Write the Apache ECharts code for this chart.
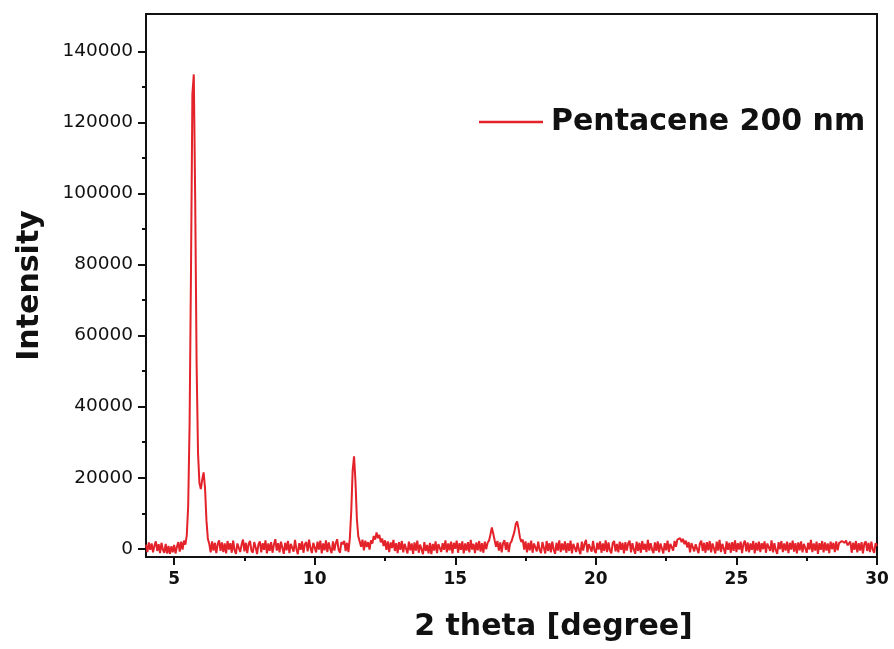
<!DOCTYPE html>
<html>
<head>
<meta charset="utf-8">
<script src="https://cdn.jsdelivr.net/npm/echarts@6/dist/echarts.min.js"></script>
<style>html,body{margin:0;padding:0;background:#fff}#c{width:894px;height:649px}</style>
</head>
<body>
<div id="c"></div>
<script>
// 2-theta scan: start angle and step (degrees)
const scanStart = 4.0;
const scanStep = 0.05;
// Intensity, one row per degree (20 points per row)
const intensity = [
  1200,-900,1800,-300,1500,-1000,900,2100,-600,1300,-1200,1700,-200,-1100,1400,-1300,800,-1400,700,-1000,
  1100,-1300,600,1900,-800,2000,-200,2300,1200,3800,12000,35000,78000,128000,133500,98000,52000,27000,18500,16800,
  19500,21500,17000,8000,2800,1400,-1000,2100,-500,1700,-1200,1300,2400,-600,1800,-900,1500,-1300,2200,-200,
  1600,-1100,2300,-400,-1400,1500,2000,-900,1200,2600,-700,1700,-1200,1400,2200,-500,-1100,1900,400,-1500,
  1300,2100,-1000,1600,-300,2400,-1300,1500,-600,1900,-1100,1200,2700,-500,1600,-1000,2000,300,-1400,1700,
  -400,2200,-1200,1400,1800,-800,2500,-100,-1500,1600,-300,2100,-1100,1300,1900,-700,2600,200,-1200,1700,
  1400,-1000,2000,-200,2300,-1300,1500,-400,2400,-900,1800,0,-1200,2100,-500,1600,2700,-300,-1100,1900,
  1300,2200,-600,1700,-900,3000,10500,22000,26000,19000,8500,3500,2100,600,2600,-400,2300,500,1900,-200,
  2400,1500,3600,2600,4600,3000,3900,1800,2900,800,2400,-300,2100,-900,1800,200,2500,-600,1600,-1200,
  1900,-300,2200,-1000,1400,1700,-1300,2000,-400,1500,-1400,1800,-500,2300,-1100,1200,1600,-1500,1900,-600,
  1100,-1300,1700,-1500,1400,-500,2100,-1200,1300,1800,-900,1600,-300,2400,-1000,1500,-400,2000,-1300,1700,
  0,2300,-1100,1600,-300,2100,-1300,1500,-500,1900,-1000,2500,-200,1400,-1200,1800,-400,2200,-800,1600,
  -1100,2000,-100,1700,2300,4000,6000,4300,2400,600,2200,-500,1800,-1000,1600,2400,-300,1900,-900,1500,
  2100,2600,4700,6900,7700,5700,3200,1900,2600,-200,2100,-1000,1700,-400,2300,-1100,1500,1800,-700,2000,
  -300,-1200,1900,1400,-1300,2200,-600,1600,-1000,2000,-200,-1400,1700,-500,2400,-900,1500,-400,2100,-1100,
  1600,-600,2300,-1300,1400,1900,-900,1700,-300,-1500,2000,-500,1500,2500,-1000,1300,1800,-800,2200,-400,
  -1200,1700,-200,2100,-1100,1500,-600,2400,-900,1800,-400,-1300,1600,2200,-700,1400,-1000,2000,-300,1700,
  -1300,1900,-500,1500,2300,-1000,1600,-200,-1400,2000,-600,1700,-1100,2200,-300,1400,-900,2500,-500,1600,
  -200,-1200,1800,-600,2100,-1000,1500,1900,-1300,1600,-400,2300,-900,1400,1800,-500,2200,600,2600,2300,
  3000,1900,2800,1300,2300,400,1900,-1000,1600,2100,-700,1300,1800,-1200,1500,2300,-600,1700,-1100,1900,
  -400,2200,-1000,1500,1800,-1300,2000,-500,2500,-900,1400,1600,-1400,2100,-300,1700,-1100,1900,-600,2400,
  -900,1600,-200,2000,-1200,1400,2300,-700,1800,-1000,1500,-300,2200,-1300,1700,-500,2000,-900,1600,-100,
  2100,-1100,1500,1800,-600,2400,-1000,1600,-400,-1400,1900,-100,2200,-900,1500,-500,2000,-1200,1700,-200,
  2300,-800,1600,-1300,1800,-400,2100,-1000,1400,1900,-1100,1700,-200,2500,-900,1500,-500,2000,-1400,1600,
  -300,2200,-1000,1800,-500,1500,-1200,2000,-100,1700,-900,2100,-400,1600,1300,2200,2100,1700,2300,1000,
  1500,2000,-1100,1700,-300,2200,-1000,1600,-500,1900,-1300,1500,2100,-600,1700,-900,2000,-200,-1100,1600,
  800
];
const seriesName = 'Pentacene 200 nm';
const xMajorTicks = [5, 10, 15, 20, 25, 30];
const xMinorTicks = [7.5, 12.5, 17.5, 22.5, 27.5];
const yMajorTicks = [0, 20000, 40000, 60000, 80000, 100000, 120000, 140000];
const yMinorTicks = [10000, 30000, 50000, 70000, 90000, 110000, 130000];
const xRange = [4, 30];
const yRange = [-2300, 150500];

const points = intensity.map((v, i) => [+(scanStart + i * scanStep).toFixed(2), v]);

const chart = echarts.init(document.getElementById('c'), null, {renderer: 'canvas'});
const titleFont = {fontFamily: 'DejaVu Sans', fontWeight: 'bold', fontSize: 30, color: '#111'};
chart.setOption({
  animation: false,
  backgroundColor: '#fff',
  grid: {left: 146, right: 17, top: 14, bottom: 92, show: true, borderColor: '#111', borderWidth: 2, backgroundColor: 'transparent'},
  legend: {
    data: [{name: seriesName, icon: 'rect'}],
    left: 474, top: 102,
    itemWidth: 64, itemHeight: 2.5,
    textStyle: Object.assign({}, titleFont, {padding: [0, 0, 0, 3]})
  },
  xAxis: [{
    type: 'value', min: xRange[0], max: xRange[1], position: 'bottom',
    name: '2 theta [degree]', nameLocation: 'middle', nameGap: 55,
    nameTextStyle: Object.assign({}, titleFont, {padding: [0, 0, 0, 84]}),
    axisLine: {show: true, onZero: false, lineStyle: {color: '#111', width: 2}},
    axisTick: {show: true, inside: false, length: 8, customValues: xMajorTicks, lineStyle: {color: '#111', width: 2}},
    axisLabel: {customValues: xMajorTicks, margin: 14, fontFamily: 'DejaVu Sans', fontWeight: 'bold', fontSize: 17, color: '#111'},
    splitLine: {show: false}
  }, {
    type: 'value', min: xRange[0], max: xRange[1], position: 'bottom',
    axisLine: {show: false, onZero: false},
    axisTick: {show: true, inside: false, length: 4, customValues: xMinorTicks, lineStyle: {color: '#111', width: 2}},
    axisLabel: {show: false},
    splitLine: {show: false}
  }],
  yAxis: [{
    type: 'value', min: yRange[0], max: yRange[1],
    name: 'Intensity', nameLocation: 'middle', nameGap: 101, nameRotate: 90, nameTextStyle: titleFont,
    axisLine: {show: true, onZero: false, lineStyle: {color: '#111', width: 2}},
    axisTick: {show: true, inside: false, length: 8, customValues: yMajorTicks, lineStyle: {color: '#111', width: 2}},
    axisLabel: {customValues: yMajorTicks, margin: 13, fontFamily: 'DejaVu Sans', fontSize: 18.5, color: '#111',
      formatter: v => String(v)},
    splitLine: {show: false}
  }, {
    type: 'value', min: yRange[0], max: yRange[1], position: 'left',
    axisLine: {show: false, onZero: false},
    axisTick: {show: true, inside: false, length: 4, customValues: yMinorTicks, lineStyle: {color: '#111', width: 2}},
    axisLabel: {show: false},
    splitLine: {show: false}
  }],
  series: [{
    name: seriesName, type: 'line', data: points,
    showSymbol: false, symbol: 'none',
    lineStyle: {color: '#e3222a', width: 2},
    itemStyle: {color: '#e3222a'},
    clip: true
  }]
});
</script>
</body>
</html>
